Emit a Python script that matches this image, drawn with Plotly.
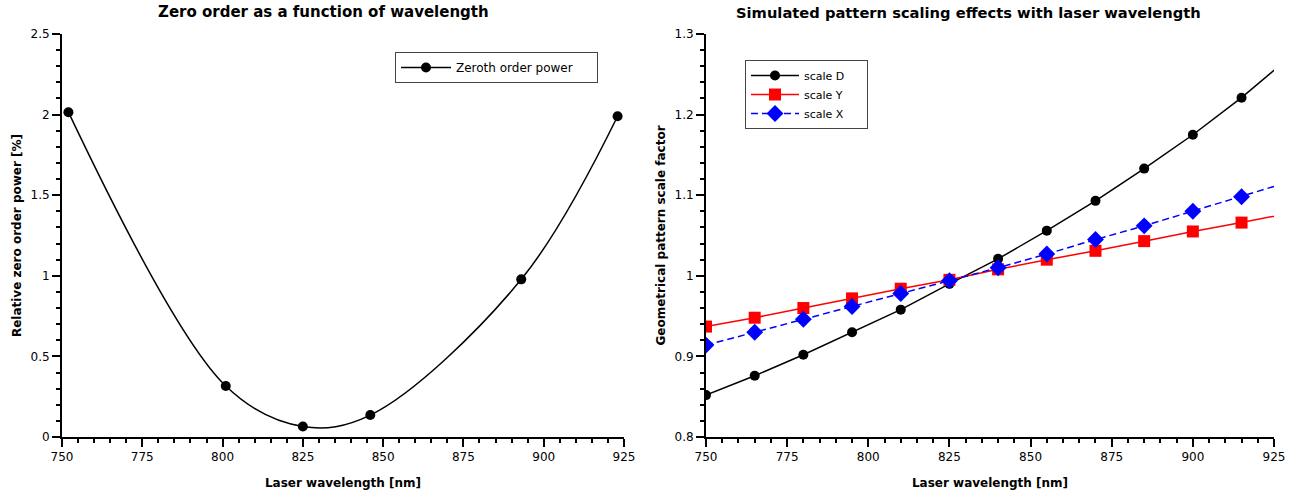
import plotly.graph_objects as go

# ---- Data ----
zo_wavelength = [752, 801, 825, 846, 893, 923]
zo_power = [2.015, 0.316, 0.065, 0.136, 0.978, 1.99]

sc_wavelength = [750, 765, 780, 795, 810, 825, 840, 855, 870, 885, 900, 915, 930]
scale_D = [0.852, 0.876, 0.902, 0.930, 0.958, 0.990, 1.021, 1.056, 1.093, 1.133, 1.175, 1.221, 1.272]
scale_Y = [0.937, 0.948, 0.960, 0.972, 0.984, 0.995, 1.008, 1.020, 1.031, 1.043, 1.055, 1.066, 1.078]
scale_X = [0.914, 0.930, 0.946, 0.962, 0.978, 0.994, 1.010, 1.027, 1.045, 1.062, 1.080, 1.098, 1.117]

x_ticks = [750, 775, 800, 825, 850, 875, 900, 925]

FONT = "DejaVu Sans"
PAD = "\u00a0" * 5  # invisible padding to widen legend boxes

fig = go.Figure()

fig.add_trace(go.Scatter(
    x=zo_wavelength, y=zo_power, name="Zeroth order power" + PAD,
    mode="lines+markers", line=dict(color="black", width=1.5, shape="spline", smoothing=1.0),
    marker=dict(symbol="circle", size=10, color="black"),
    xaxis="x", yaxis="y", legend="legend"))

fig.add_trace(go.Scatter(
    x=sc_wavelength, y=scale_D, name="scale D" + PAD, mode="lines+markers",
    line=dict(color="black", width=1.5),
    marker=dict(symbol="circle", size=10, color="black"),
    xaxis="x2", yaxis="y2", legend="legend2"))
fig.add_trace(go.Scatter(
    x=sc_wavelength, y=scale_Y, name="scale Y" + PAD, mode="lines+markers",
    line=dict(color="#ff0000", width=1.5),
    marker=dict(symbol="square", size=12, color="#ff0000"),
    xaxis="x2", yaxis="y2", legend="legend2"))
fig.add_trace(go.Scatter(
    x=sc_wavelength, y=scale_X, name="scale X" + PAD, mode="lines+markers",
    line=dict(color="#0000ff", width=1.5, dash="7px,4px"),
    marker=dict(symbol="diamond", size=13, color="#0000ff"),
    xaxis="x2", yaxis="y2", legend="legend2"))

W, H = 1299, 497

def px(x):
    return x / W

def py(y):
    return 1 - y / H

xd1 = [px(62), px(624)]
xd2 = [px(706), px(1274)]
yd = [py(437), py(34)]

tickfont = dict(family=FONT, size=12, color="black")
titlefont = dict(family=FONT, size=12, color="black", weight="bold")

def xax(domain, anchor, **kw):
    d = dict(domain=domain, anchor=anchor, range=[750, 925], tickmode="array", automargin=False,
             tickvals=x_ticks, ticks="outside", ticklen=8, tickwidth=2, tickcolor="black",
             minor=dict(dtick=5, tick0=750, ticks="outside", ticklen=4, tickwidth=2, tickcolor="black"),
             showline=True, linewidth=2, linecolor="black", showgrid=False, zeroline=False,
             tickfont=tickfont,
             title=dict(text="Laser wavelength [nm]", font=titlefont, standoff=15))
    d.update(kw)
    return d

def yax(domain, anchor, rng, dtick, mdtick, title, **kw):
    d = dict(domain=domain, anchor=anchor, range=rng, tickmode="linear", tick0=rng[0], dtick=dtick,
             automargin=False,
             ticks="outside", ticklen=8, tickwidth=2, tickcolor="black",
             minor=dict(dtick=mdtick, tick0=rng[0], ticks="outside", ticklen=4, tickwidth=2, tickcolor="black"),
             showline=True, linewidth=2, linecolor="black", showgrid=False, zeroline=False,
             tickfont=tickfont,
             title=dict(text=title, font=titlefont, standoff=6))
    d.update(kw)
    return d

def mirror_x(over, anchor, domain):
    return dict(overlaying=over, anchor=anchor, side="top", domain=domain, range=[750, 925],
                automargin=False,
                tickmode="array", tickvals=x_ticks, ticks="inside", ticklen=8, tickwidth=2,
                tickcolor="black", showticklabels=False,
                minor=dict(dtick=5, tick0=750, ticks="inside", ticklen=4, tickwidth=2, tickcolor="black"),
                showline=True, linewidth=2, linecolor="black", showgrid=False, zeroline=False)

def mirror_y(over, anchor, domain, rng, dtick, mdtick):
    return dict(overlaying=over, anchor=anchor, side="right", domain=domain, range=rng,
                automargin=False,
                tickmode="linear", tick0=rng[0], dtick=dtick, ticks="inside", ticklen=8, tickwidth=2,
                tickcolor="black", showticklabels=False,
                minor=dict(dtick=mdtick, tick0=rng[0], ticks="inside", ticklen=4, tickwidth=2, tickcolor="black"),
                showline=True, linewidth=2, linecolor="black", showgrid=False, zeroline=False)

fig.update_layout(
    width=W, height=H,
    paper_bgcolor="white", plot_bgcolor="white",
    margin=dict(l=0, r=0, t=0, b=0),
    font=dict(family=FONT, size=12, color="black"),
    xaxis=xax(xd1, "y"),
    yaxis=yax(yd, "x", [0, 2.5], 0.5, 0.1, "Relative zero order power [%]"),
    xaxis2=xax(xd2, "y2"),
    yaxis2=yax(yd, "x2", [0.8, 1.3], 0.1, 0.02, "Geometrical pattern scale factor"),
    xaxis3=mirror_x("x", "y", xd1),
    yaxis3=mirror_y("y", "x", yd, [0, 2.5], 0.5, 0.1),
    xaxis4=mirror_x("x2", "y2", xd2),
    yaxis4=mirror_y("y2", "x2", yd, [0.8, 1.3], 0.1, 0.02),
    legend=dict(x=px(395), y=py(52), xanchor="left", yanchor="top", itemwidth=50,
                bgcolor="white", bordercolor="#444", borderwidth=1,
                font=dict(family=FONT, size=12, color="black")),
    legend2=dict(x=px(745), y=py(60), xanchor="left", yanchor="top", itemwidth=48,
                 bgcolor="white", bordercolor="#444", borderwidth=1, tracegroupgap=0,
                 font=dict(family=FONT, size=11, color="black")),
    showlegend=True,
    annotations=[
        dict(text="<b>Zero order as a function of wavelength</b>", x=px(323), y=py(12),
             xref="paper", yref="paper", showarrow=False, xanchor="center", yanchor="middle",
             font=dict(family=FONT, size=15, color="black")),
        dict(text="<b>Simulated pattern scaling effects with laser wavelength</b>", x=px(968),
             y=py(12), xref="paper", yref="paper", showarrow=False, xanchor="center", yanchor="middle",
             font=dict(family=FONT, size=14.7, color="black")),
    ],
)

fig.write_html("out.html", config={"displayModeBar": False},
               post_script="document.body.style.margin='0';")
